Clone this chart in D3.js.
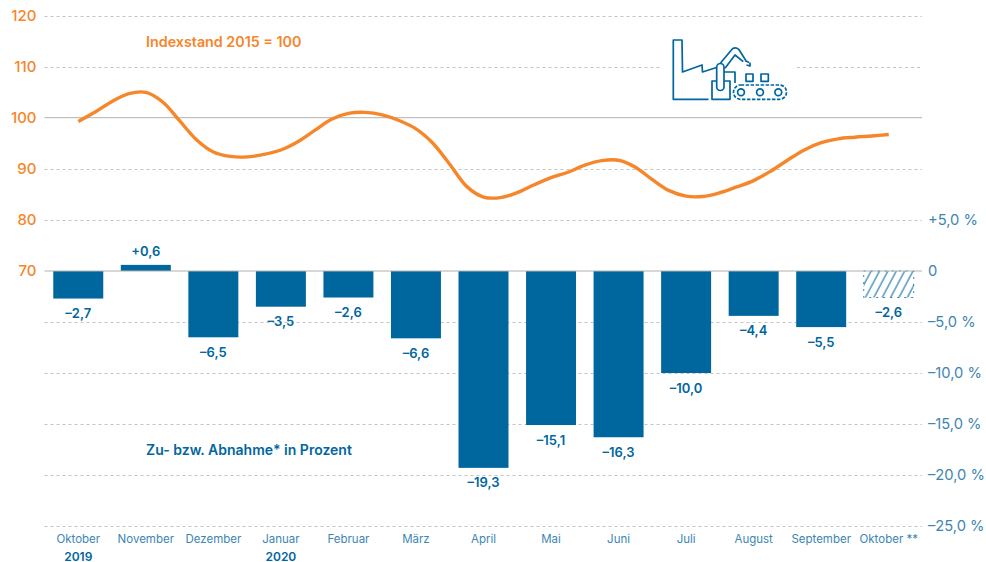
<!DOCTYPE html>
<html><head><meta charset="utf-8">
<script src="https://cdn.jsdelivr.net/npm/d3@7/dist/d3.min.js"></script>
<style>
html,body{margin:0;padding:0;background:#fff}
svg{display:block}
svg text{font-family:Inter,"Open Sans",sans-serif}
</style></head><body><div id="chart"></div>
<script>
const months=["Oktober","November","Dezember","Januar","Februar","März","April","Mai","Juni","Juli","August","September","Oktober **"];
const changes=[-2.7,0.6,-6.5,-3.5,-2.6,-6.6,-19.3,-15.1,-16.3,-10.0,-4.4,-5.5,-2.6];
// index curve every quarter of a month
const linePositions=[0,.25,.5,.75,1,1.25,1.5,1.75,2,2.25,2.5,2.75,3,3.25,3.5,3.75,4,4.25,4.5,4.75,5,5.25,5.5,5.75,6,6.25,6.5,6.75,7,7.25,7.5,7.75,8,8.25,8.5,8.75,9,9.25,9.5,9.75,10,10.25,10.5,10.75,11,11.25,11.5,11.75,12];
const indexValues=[99.26,101.1,103.19,104.7,104.95,103.07,99.41,95.69,93.29,92.43,92.33,92.82,93.68,95.30,97.51,99.71,100.84,101.04,100.57,99.45,97.81,95.01,90.90,86.56,84.48,84.36,85.32,86.87,88.26,89.33,90.70,91.59,91.68,90.31,87.87,85.73,84.64,84.58,85.32,86.46,87.69,89.53,91.68,93.70,95.11,95.87,96.18,96.42,96.71];
const indexTicks=[70,80,90,100,110,120];
const pctTicks=[5,0,-5,-10,-15,-20,-25];
const years=[["2019",0],["2020",3]];
const provisional=[12];
const ORANGE="#f5862a",BLUE="#00669e",AXISBLUE="#3d85b3",GRID="#c4c4c4",SOLID="#b0b0b0";
const W=986,H=562,L=44.5,R=922;
const svg=d3.select("#chart").append("svg").attr("width",W).attr("height",H);
const defs=svg.append("defs");
const pat=defs.append("pattern").attr("id","hatch").attr("patternUnits","userSpaceOnUse").attr("width",7.4).attr("height",7.4).attr("patternTransform","rotate(28)");
pat.append("rect").attr("width",7.4).attr("height",7.4).attr("fill","#fff");
pat.append("line").attr("x1",1).attr("x2",1).attr("y1",0).attr("y2",7.4).attr("stroke",BLUE).attr("stroke-width",1);

const x=d3.scaleBand().domain(d3.range(months.length)).range([L,R+0.5]).paddingInner(0.26).paddingOuter(0.13);
const yIdx=d3.scaleLinear().domain([70,120]).range([271,15.5]);
const yPct=d3.scaleLinear().domain([-25,5]).range([526,220]);
const cx=i=>x(i)+x.bandwidth()/2;
const xPos=d3.scaleLinear().domain([0,months.length-1]).range([cx(0),cx(months.length-1)]);

// grid
const dash=(sel)=>sel.attr("stroke",GRID).attr("stroke-width",1).attr("stroke-dasharray","3 3").attr("fill","none");
const gridY=[...indexTicks.filter(d=>d!==70&&d!==100).map(yIdx),...pctTicks.filter(d=>d<0).map(yPct)];
const grid=svg.append("g");
gridY.forEach(y=>{
  const yy=Math.round(y)+0.5;
  if(Math.abs(yy-yIdx(110))<1.5){
    dash(grid.append("line").attr("x1",L).attr("x2",661).attr("y1",yy).attr("y2",yy));
    dash(grid.append("line").attr("x1",797).attr("x2",R).attr("y1",yy).attr("y2",yy));
  } else dash(grid.append("line").attr("x1",L).attr("x2",R).attr("y1",yy).attr("y2",yy));
});

// left axis
const axL=svg.append("g").attr("transform",`translate(${L},0)`).call(d3.axisLeft(yIdx).tickValues(indexTicks).tickSize(0).tickPadding(8));
axL.select(".domain").remove();
axL.selectAll("text").attr("fill",ORANGE).attr("font-size",15).attr("font-weight",500).style("font-family","Inter,sans-serif");
// right axis
const fmtPct=d=>d===0?"0":(d>0?"+":"–")+d3.format(".1f")(Math.abs(d)).replace(".",",")+" %";
const axR=svg.append("g").attr("transform",`translate(${R},0)`).call(d3.axisRight(yPct).tickValues(pctTicks).tickSize(0).tickPadding(6).tickFormat(fmtPct));
axR.select(".domain").remove();
axR.selectAll("text").attr("fill",AXISBLUE).attr("font-size",14.7).attr("font-weight",400).style("font-family","Inter,sans-serif");
// bottom axis
const axB=svg.append("g").attr("transform","translate(0,526)").call(d3.axisBottom(x).tickSize(0).tickPadding(9).tickFormat(i=>months[i]));
axB.select(".domain").remove();
axB.selectAll("text").attr("fill",AXISBLUE).attr("font-size",11.5).attr("font-weight",400).style("font-family","Inter,sans-serif");
svg.append("g").selectAll("text").data(years).join("text")
  .attr("x",d=>cx(d[1])).attr("y",560.5).attr("text-anchor","middle").attr("fill",BLUE).attr("font-size",12).attr("font-weight",600).text(d=>d[0]);

// bars
svg.append("g").selectAll("rect").data(changes).join("rect")
  .attr("x",(d,i)=>x(i)).attr("width",x.bandwidth())
  .attr("y",d=>yPct(Math.max(d,0))).attr("height",d=>Math.abs(yPct(d)-yPct(0)))
  .attr("fill",(d,i)=>provisional.includes(i)?"url(#hatch)":BLUE)
  .attr("stroke",(d,i)=>provisional.includes(i)?BLUE:"none")
  .attr("stroke-dasharray","2 5").attr("stroke-width",0.8);

// reference lines
[yIdx(100),yPct(0)].forEach(y=>svg.append("line").attr("x1",L).attr("x2",R).attr("y1",y).attr("y2",y).attr("stroke",SOLID).attr("stroke-width",1));

// bar labels
const fmtVal=d=>(d>0?"+":"–")+d3.format(".1f")(Math.abs(d)).replace(".",",");
svg.append("g").selectAll("text").data(changes).join("text")
  .attr("x",(d,i)=>cx(i)).attr("y",d=>d>0?yPct(d)-9:yPct(d)+19.5)
  .attr("text-anchor","middle").attr("fill",BLUE).attr("font-size",13).attr("font-weight",600).text(fmtVal);

// index line
svg.append("path").datum(indexValues)
  .attr("d",d3.line().x((d,i)=>xPos(linePositions[i])).y(d=>yIdx(d)).curve(d3.curveCatmullRom.alpha(0.5)))
  .attr("fill","none").attr("stroke",ORANGE).attr("stroke-width",3.4);

// titles
svg.append("text").attr("x",146).attr("y",47).attr("fill",ORANGE).attr("font-size",14.3).attr("font-weight",600).text("Indexstand 2015 = 100");
svg.append("text").attr("x",146).attr("y",455).attr("fill",BLUE).attr("font-size",14).attr("font-weight",600).text("Zu- bzw. Abnahme* in Prozent");

// factory icon
const ic=svg.append("g").attr("fill","none").attr("stroke",BLUE).attr("stroke-width",1.7).attr("stroke-linejoin","round");
ic.append("path").attr("d","M708.5 99.3H673.3V40H682L682.5 72L702 65L702.5 72L716.5 67.5");
ic.append("rect").attr("x",712).attr("y",81).attr("width",18).attr("height",18.3);
ic.append("rect").attr("x",716.7).attr("y",63.5).attr("width",7.3).attr("height",27).attr("rx",3.6).attr("fill","#fff");
ic.append("path").attr("d","M724 72H735V83");
ic.append("path").attr("d","M720.5 63L732.7 48.5Q736 47 738.7 49.3L746 60.7M725 68.3L735 55L743.3 61.7");
ic.append("path").attr("d","M745 60.5L749 62.5M750 62.5L750 66L746.5 65");
ic.append("rect").attr("x",746).attr("y",74).attr("width",7).attr("height",7.3);
ic.append("rect").attr("x",761).attr("y",74).attr("width",7.3).attr("height",7.3);
ic.append("rect").attr("x",733.5).attr("y",85).attr("width",53).attr("height",14.3).attr("rx",7.1).attr("stroke-dasharray","3.5 1.5");
[741,760,778.3].forEach(c=>ic.append("circle").attr("cx",c).attr("cy",92.3).attr("r",3.4));
</script></body></html>
